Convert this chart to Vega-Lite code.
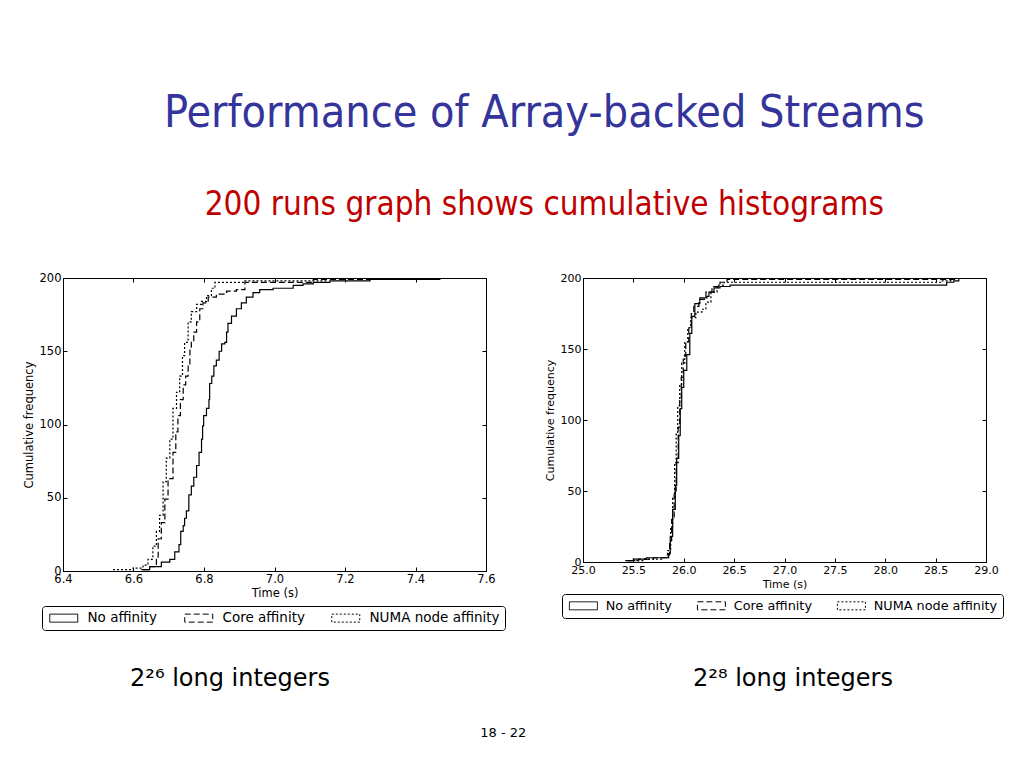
{
  "$schema": "https://vega.github.io/schema/vega-lite/v6.json",
  "background": "white",
  "padding": {"left": 22, "top": 91, "right": 5, "bottom": 5},
  "title": {
    "text": "Performance of Array-backed Streams",
    "subtitle": "200 runs graph shows cumulative histograms",
    "font": "DejaVu Sans Condensed, DejaVu Sans",
    "fontSize": 44.5,
    "fontWeight": "normal",
    "color": "#34349a",
    "subtitleFont": "DejaVu Sans Condensed, DejaVu Sans",
    "subtitleFontSize": 33,
    "subtitleColor": "#c00000",
    "subtitlePadding": 52,
    "anchor": "middle",
    "offset": 49,
    "dx": 31
  },
  "datasets": {
    "left": [
      {"series": "No affinity", "time": 6.622, "count": 1},
      {"series": "No affinity", "time": 6.646, "count": 3},
      {"series": "No affinity", "time": 6.679, "count": 6},
      {"series": "No affinity", "time": 6.703, "count": 8},
      {"series": "No affinity", "time": 6.717, "count": 13},
      {"series": "No affinity", "time": 6.729, "count": 18},
      {"series": "No affinity", "time": 6.734, "count": 27},
      {"series": "No affinity", "time": 6.741, "count": 31},
      {"series": "No affinity", "time": 6.745, "count": 36},
      {"series": "No affinity", "time": 6.750, "count": 41},
      {"series": "No affinity", "time": 6.757, "count": 52},
      {"series": "No affinity", "time": 6.764, "count": 58},
      {"series": "No affinity", "time": 6.771, "count": 64},
      {"series": "No affinity", "time": 6.779, "count": 72},
      {"series": "No affinity", "time": 6.786, "count": 81},
      {"series": "No affinity", "time": 6.793, "count": 90},
      {"series": "No affinity", "time": 6.796, "count": 99},
      {"series": "No affinity", "time": 6.799, "count": 106},
      {"series": "No affinity", "time": 6.807, "count": 111},
      {"series": "No affinity", "time": 6.814, "count": 117},
      {"series": "No affinity", "time": 6.816, "count": 128},
      {"series": "No affinity", "time": 6.822, "count": 133},
      {"series": "No affinity", "time": 6.828, "count": 140},
      {"series": "No affinity", "time": 6.835, "count": 144},
      {"series": "No affinity", "time": 6.843, "count": 150},
      {"series": "No affinity", "time": 6.850, "count": 155},
      {"series": "No affinity", "time": 6.859, "count": 156},
      {"series": "No affinity", "time": 6.864, "count": 163},
      {"series": "No affinity", "time": 6.868, "count": 169},
      {"series": "No affinity", "time": 6.878, "count": 174},
      {"series": "No affinity", "time": 6.892, "count": 179},
      {"series": "No affinity", "time": 6.906, "count": 183},
      {"series": "No affinity", "time": 6.920, "count": 187},
      {"series": "No affinity", "time": 6.939, "count": 190},
      {"series": "No affinity", "time": 6.958, "count": 192},
      {"series": "No affinity", "time": 6.996, "count": 193},
      {"series": "No affinity", "time": 7.053, "count": 195},
      {"series": "No affinity", "time": 7.081, "count": 196},
      {"series": "No affinity", "time": 7.110, "count": 197},
      {"series": "No affinity", "time": 7.157, "count": 198},
      {"series": "No affinity", "time": 7.271, "count": 199},
      {"series": "No affinity", "time": 7.469, "count": 200},
      {"series": "Core affinity", "time": 6.627, "count": 1},
      {"series": "Core affinity", "time": 6.646, "count": 3},
      {"series": "Core affinity", "time": 6.665, "count": 8},
      {"series": "Core affinity", "time": 6.670, "count": 22},
      {"series": "Core affinity", "time": 6.679, "count": 33},
      {"series": "Core affinity", "time": 6.689, "count": 49},
      {"series": "Core affinity", "time": 6.698, "count": 63},
      {"series": "Core affinity", "time": 6.712, "count": 81},
      {"series": "Core affinity", "time": 6.720, "count": 95},
      {"series": "Core affinity", "time": 6.726, "count": 106},
      {"series": "Core affinity", "time": 6.733, "count": 117},
      {"series": "Core affinity", "time": 6.741, "count": 127},
      {"series": "Core affinity", "time": 6.748, "count": 133},
      {"series": "Core affinity", "time": 6.755, "count": 140},
      {"series": "Core affinity", "time": 6.760, "count": 152},
      {"series": "Core affinity", "time": 6.764, "count": 156},
      {"series": "Core affinity", "time": 6.771, "count": 163},
      {"series": "Core affinity", "time": 6.779, "count": 170},
      {"series": "Core affinity", "time": 6.788, "count": 179},
      {"series": "Core affinity", "time": 6.797, "count": 183},
      {"series": "Core affinity", "time": 6.812, "count": 187},
      {"series": "Core affinity", "time": 6.835, "count": 189},
      {"series": "Core affinity", "time": 6.864, "count": 191},
      {"series": "Core affinity", "time": 6.892, "count": 192},
      {"series": "Core affinity", "time": 6.916, "count": 197},
      {"series": "Core affinity", "time": 7.110, "count": 199},
      {"series": "Core affinity", "time": 7.394, "count": 200},
      {"series": "NUMA node affinity", "time": 6.542, "count": 1},
      {"series": "NUMA node affinity", "time": 6.599, "count": 2},
      {"series": "NUMA node affinity", "time": 6.627, "count": 4},
      {"series": "NUMA node affinity", "time": 6.641, "count": 8},
      {"series": "NUMA node affinity", "time": 6.655, "count": 17},
      {"series": "NUMA node affinity", "time": 6.665, "count": 27},
      {"series": "NUMA node affinity", "time": 6.674, "count": 38},
      {"series": "NUMA node affinity", "time": 6.684, "count": 61},
      {"series": "NUMA node affinity", "time": 6.693, "count": 77},
      {"series": "NUMA node affinity", "time": 6.703, "count": 90},
      {"series": "NUMA node affinity", "time": 6.712, "count": 111},
      {"series": "NUMA node affinity", "time": 6.722, "count": 122},
      {"series": "NUMA node affinity", "time": 6.731, "count": 133},
      {"series": "NUMA node affinity", "time": 6.739, "count": 147},
      {"series": "NUMA node affinity", "time": 6.745, "count": 156},
      {"series": "NUMA node affinity", "time": 6.755, "count": 170},
      {"series": "NUMA node affinity", "time": 6.764, "count": 177},
      {"series": "NUMA node affinity", "time": 6.779, "count": 182},
      {"series": "NUMA node affinity", "time": 6.793, "count": 184},
      {"series": "NUMA node affinity", "time": 6.807, "count": 188},
      {"series": "NUMA node affinity", "time": 6.821, "count": 193},
      {"series": "NUMA node affinity", "time": 6.831, "count": 197},
      {"series": "NUMA node affinity", "time": 6.916, "count": 198},
      {"series": "NUMA node affinity", "time": 7.148, "count": 200}
    ],
    "right": [
      {"series": "No affinity", "time": 25.42, "count": 1},
      {"series": "No affinity", "time": 25.50, "count": 2},
      {"series": "No affinity", "time": 25.63, "count": 3},
      {"series": "No affinity", "time": 25.85, "count": 6},
      {"series": "No affinity", "time": 25.866, "count": 18},
      {"series": "No affinity", "time": 25.89, "count": 37},
      {"series": "No affinity", "time": 25.916, "count": 54},
      {"series": "No affinity", "time": 25.93, "count": 73},
      {"series": "No affinity", "time": 25.95, "count": 89},
      {"series": "No affinity", "time": 25.965, "count": 108},
      {"series": "No affinity", "time": 25.98, "count": 123},
      {"series": "No affinity", "time": 26.00, "count": 135},
      {"series": "No affinity", "time": 26.03, "count": 146},
      {"series": "No affinity", "time": 26.06, "count": 161},
      {"series": "No affinity", "time": 26.08, "count": 173},
      {"series": "No affinity", "time": 26.11, "count": 182},
      {"series": "No affinity", "time": 26.16, "count": 186},
      {"series": "No affinity", "time": 26.23, "count": 187},
      {"series": "No affinity", "time": 26.25, "count": 190},
      {"series": "No affinity", "time": 26.30, "count": 193},
      {"series": "No affinity", "time": 26.36, "count": 194},
      {"series": "No affinity", "time": 26.46, "count": 195},
      {"series": "No affinity", "time": 28.61, "count": 197},
      {"series": "No affinity", "time": 28.68, "count": 198},
      {"series": "No affinity", "time": 28.73, "count": 200},
      {"series": "Core affinity", "time": 25.44, "count": 1},
      {"series": "Core affinity", "time": 25.55, "count": 2},
      {"series": "Core affinity", "time": 25.70, "count": 3},
      {"series": "Core affinity", "time": 25.83, "count": 5},
      {"series": "Core affinity", "time": 25.86, "count": 15},
      {"series": "Core affinity", "time": 25.88, "count": 30},
      {"series": "Core affinity", "time": 25.905, "count": 50},
      {"series": "Core affinity", "time": 25.925, "count": 70},
      {"series": "Core affinity", "time": 25.945, "count": 95},
      {"series": "Core affinity", "time": 25.96, "count": 115},
      {"series": "Core affinity", "time": 25.975, "count": 130},
      {"series": "Core affinity", "time": 25.995, "count": 145},
      {"series": "Core affinity", "time": 26.02, "count": 155},
      {"series": "Core affinity", "time": 26.05, "count": 165},
      {"series": "Core affinity", "time": 26.075, "count": 175},
      {"series": "Core affinity", "time": 26.10, "count": 180},
      {"series": "Core affinity", "time": 26.15, "count": 185},
      {"series": "Core affinity", "time": 26.22, "count": 190},
      {"series": "Core affinity", "time": 26.28, "count": 194},
      {"series": "Core affinity", "time": 26.36, "count": 197},
      {"series": "Core affinity", "time": 26.43, "count": 199},
      {"series": "Core affinity", "time": 28.70, "count": 200},
      {"series": "NUMA node affinity", "time": 25.46, "count": 1},
      {"series": "NUMA node affinity", "time": 25.60, "count": 2},
      {"series": "NUMA node affinity", "time": 25.78, "count": 3},
      {"series": "NUMA node affinity", "time": 25.84, "count": 8},
      {"series": "NUMA node affinity", "time": 25.87, "count": 25},
      {"series": "NUMA node affinity", "time": 25.89, "count": 45},
      {"series": "NUMA node affinity", "time": 25.91, "count": 70},
      {"series": "NUMA node affinity", "time": 25.925, "count": 90},
      {"series": "NUMA node affinity", "time": 25.94, "count": 110},
      {"series": "NUMA node affinity", "time": 25.96, "count": 125},
      {"series": "NUMA node affinity", "time": 25.98, "count": 140},
      {"series": "NUMA node affinity", "time": 26.01, "count": 155},
      {"series": "NUMA node affinity", "time": 26.04, "count": 165},
      {"series": "NUMA node affinity", "time": 26.07, "count": 172},
      {"series": "NUMA node affinity", "time": 26.12, "count": 176},
      {"series": "NUMA node affinity", "time": 26.18, "count": 178},
      {"series": "NUMA node affinity", "time": 26.22, "count": 183},
      {"series": "NUMA node affinity", "time": 26.27, "count": 190},
      {"series": "NUMA node affinity", "time": 26.33, "count": 195},
      {"series": "NUMA node affinity", "time": 26.40, "count": 197},
      {"series": "NUMA node affinity", "time": 28.55, "count": 198},
      {"series": "NUMA node affinity", "time": 28.65, "count": 200}
    ]
  },
  "vconcat": [
    {
      "title": {"text": "18 - 22", "orient": "bottom", "anchor": "middle", "fontSize": 13, "font": "DejaVu Sans", "fontWeight": "normal", "color": "black", "offset": 36, "dx": -10},
      "spacing": 37,
      "hconcat": [
        {
          "width": 423,
          "height": 293,
          "title": {"text": "2²⁶ long integers", "orient": "bottom", "anchor": "start", "frame": "group", "dx": 67, "offset": 36, "fontSize": 24, "font": "DejaVu Sans", "fontWeight": "normal", "color": "black"},
          "data": {"name": "left"},
          "layer": [
            {
              "mark": {"type": "line", "interpolate": "step-after", "color": "black", "strokeWidth": 1.2},
              "encoding": {
                "x": {"field": "time", "type": "quantitative", "scale": {"domain": [6.4, 7.6], "nice": false, "zero": false},
                      "axis": {"title": "Time (s)", "values": [6.4, 6.6, 6.8, 7.0, 7.2, 7.4, 7.6], "format": ".1f"}},
                "y": {"field": "count", "type": "quantitative", "scale": {"domain": [0, 200], "nice": false},
                      "axis": {"title": "Cumulative frequency", "values": [0, 50, 100, 150, 200]}},
                "strokeDash": {"field": "series", "type": "nominal",
                               "scale": {"domain": ["No affinity", "Core affinity", "NUMA node affinity"], "range": [[1, 0], [6, 3], [2, 2]]},
                               "legend": {"orient": "none", "legendX": -21, "legendY": 328, "direction": "horizontal", "title": null, "labelFontSize": 13.5, "labelOffset": 17, "columnPadding": 24}}
              }
            },
            {
              "mark": {"type": "line", "opacity": 0},
              "encoding": {
                "x": {"field": "time", "type": "quantitative", "axis": {"orient": "top", "labels": false, "title": null, "domain": false, "values": [6.4, 6.6, 6.8, 7.0, 7.2, 7.4, 7.6]}},
                "y": {"field": "count", "type": "quantitative", "axis": {"orient": "right", "labels": false, "title": null, "domain": false, "values": [0, 50, 100, 150, 200]}}
              }
            }
          ],
          "resolve": {"axis": {"x": "independent", "y": "independent"}}
        },
        {
          "width": 403,
          "height": 284,
          "title": {"text": "2²⁸ long integers", "orient": "bottom", "anchor": "start", "frame": "group", "dx": 110, "offset": 48, "fontSize": 24, "font": "DejaVu Sans", "fontWeight": "normal", "color": "black"},
          "data": {"name": "right"},
          "layer": [
            {
              "mark": {"type": "line", "interpolate": "step-after", "color": "black", "strokeWidth": 1.2},
              "encoding": {
                "x": {"field": "time", "type": "quantitative", "scale": {"domain": [25, 29], "nice": false, "zero": false},
                      "axis": {"title": "Time (s)", "values": [25, 25.5, 26, 26.5, 27, 27.5, 28, 28.5, 29], "format": ".1f", "labelFontSize": 11, "titleFontSize": 11}},
                "y": {"field": "count", "type": "quantitative", "scale": {"domain": [0, 200], "nice": false},
                      "axis": {"title": "Cumulative frequency", "values": [0, 50, 100, 150, 200], "labelFontSize": 11, "titleFontSize": 11}},
                "strokeDash": {"field": "series", "type": "nominal",
                               "scale": {"domain": ["No affinity", "Core affinity", "NUMA node affinity"], "range": [[1, 0], [6, 3], [2, 2]]},
                               "legend": {"orient": "none", "legendX": -21, "legendY": 316, "direction": "horizontal", "title": null, "labelFontSize": 12.8, "labelOffset": 16, "columnPadding": 23}}
              }
            },
            {
              "mark": {"type": "line", "opacity": 0},
              "encoding": {
                "x": {"field": "time", "type": "quantitative", "axis": {"orient": "top", "labels": false, "title": null, "domain": false, "values": [25, 25.5, 26, 26.5, 27, 27.5, 28, 28.5, 29]}},
                "y": {"field": "count", "type": "quantitative", "axis": {"orient": "right", "labels": false, "title": null, "domain": false, "values": [0, 50, 100, 150, 200]}}
              }
            }
          ],
          "resolve": {"axis": {"x": "independent", "y": "independent"}}
        }
      ],
      "resolve": {"legend": {"strokeDash": "independent"}, "scale": {"x": "independent", "y": "independent", "strokeDash": "independent"}}
    }
  ],
  "config": {
    "view": {"stroke": "black", "strokeWidth": 1},
    "title": {"fontWeight": "normal"},
    "axis": {
      "domainColor": "black", "domainWidth": 1, "tickColor": "black", "tickSize": -4, "tickWidth": 1,
      "labelColor": "black", "labelFont": "DejaVu Sans", "labelFontSize": 11.5,
      "titleFont": "DejaVu Sans", "titleFontSize": 11.5, "titleFontWeight": "normal", "titleColor": "black",
      "grid": false, "labelFlush": false, "labelOverlap": false
    },
    "axisX": {"labelPadding": 6, "titlePadding": 3},
    "axisY": {"labelPadding": 6, "titlePadding": 5},
    "legend": {
      "padding": 5, "cornerRadius": 3, "strokeColor": "black", "fillColor": "white",
      "symbolType": "M-3.5,-1H3.5V1H-3.5Z", "symbolSize": 64, "symbolOffset": 10,
      "symbolStrokeColor": "black", "symbolFillColor": "white", "symbolStrokeWidth": 1,
      "labelFont": "DejaVu Sans", "labelColor": "black", "labelLimit": 300
    }
  }
}
